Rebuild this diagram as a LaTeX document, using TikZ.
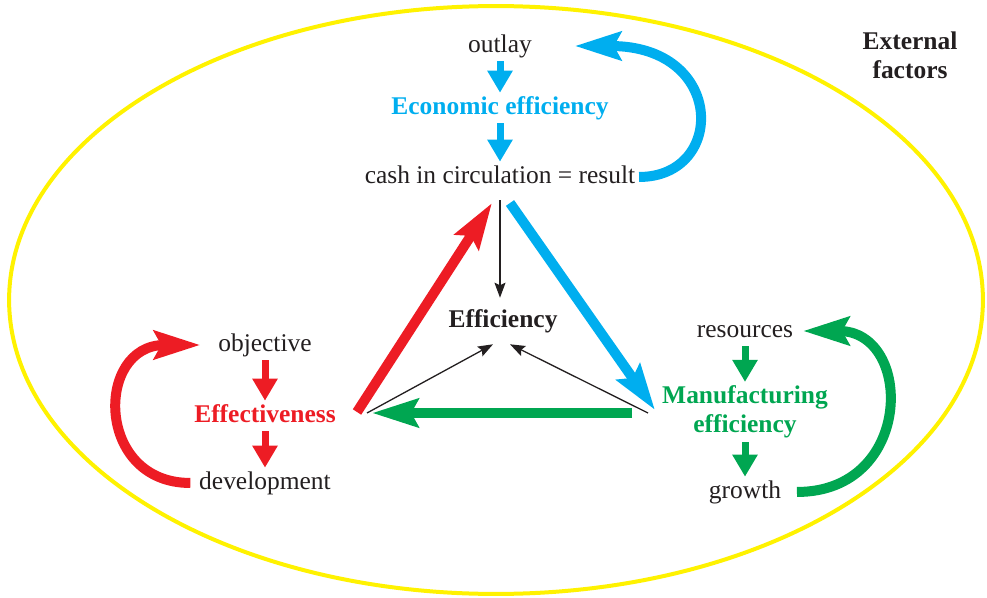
\documentclass[tikz,border=0pt]{standalone}
\usepackage{fontspec}
\setmainfont{Liberation Serif}
\usepackage{xcolor}
\usetikzlibrary{positioning, arrows.meta}

\definecolor{ecoblue}{HTML}{00AEEF}
\definecolor{effred}{HTML}{ED1C24}
\definecolor{mfggreen}{HTML}{00A651}
\definecolor{framey}{HTML}{FFF200}
\definecolor{ink}{HTML}{231F20}
\newcommand{\figsize}{\fontsize{14.5}{16.5}\selectfont}

\begin{document}
\begin{tikzpicture}[
      x=0.02cm, y=-0.02cm, on grid,
      txt/.style={
          font=\figsize, text=ink, inner sep=2pt,
          text height=10pt, text depth=3pt
        },
      ttl/.style={
          txt, font=\figsize\bfseries
        },
      ttlbox/.style={
          font=\figsize\bfseries, align=center, inner sep=2pt
        },
      flow/.style={line width=0.14cm,
          -{Triangle[length=0.44cm, width=0.48cm]}},
      bigarrow/.style={line width=0.2cm,
          -{Stealth[length=0.92cm, width=0.56cm, inset=0.14cm]}},
      thinarrow/.style={ink, line width=0.026cm,
          -{Stealth[length=0.3cm, width=0.22cm, inset=0.05cm]}}
    ]

    \useasboundingbox (0,0) rectangle (987,598);

    % ── External frame ──
    \draw[framey, line width=0.08cm] (496,300)
    ellipse [x radius=9.74cm, y radius=5.88cm];
    \node[ttlbox, text=ink] (extern) at (910,55) {External\\factors};

    % ── Economic efficiency (top) ──
    \node[txt] (outlay) at (500,46) {outlay};
    \node[ttl, text=ecoblue, below=1.24cm of outlay] (econ) {Economic efficiency};
    \node[txt, below=1.38cm of econ] (result) {cash in circulation = result};

    \draw[flow, ecoblue] (outlay) -- (econ);
    \draw[flow, ecoblue] (econ) -- (result);
    \draw[bigarrow, ecoblue]
    (result.east) .. controls (726,177) and (726,46) .. ([xshift=0.78cm]outlay.east);

    % ── Effectiveness (left) ──
    \node[txt] (objective) at (265,345) {objective};
    \node[ttl, text=effred, below=1.42cm of objective] (effect) {Effectiveness};
    \node[txt, below=1.34cm of effect] (develop) {development};

    \draw[flow, effred] (objective) -- (effect);
    \draw[flow, effred] (effect) -- (develop);
    \draw[bigarrow, effred]
    ([xshift=-0.1cm]develop.west) .. controls (95,483) and (95,345) .. ([xshift=-0.28cm]objective.west);

    % ── Manufacturing efficiency (right) ──
    \node[txt] (resources) at (745,331) {resources};
    \node[ttlbox, text=mfggreen, below=1.62cm of resources] (manuf) {Manufacturing\\efficiency};
    \node[txt, below=1.6cm of manuf] (growth) {growth};

    \draw[flow, mfggreen] (resources) -- (manuf);
    \draw[flow, mfggreen] (manuf) -- (growth);
    \draw[bigarrow, mfggreen]
    ([xshift=0.24cm]growth.east) .. controls (914,492) and (914,331) .. ([xshift=0.12cm]resources.east);

    % ── Central triangle ──
    \node[ttl] (effic) at (503,321) {Efficiency};
    \coordinate (apex) at (500,200);
    \coordinate (lcorner) at (362,413);
    \coordinate (rcorner) at (650,413);

    \draw[bigarrow, effred] ([shift={(-5,-1)}]lcorner) -- ([shift={(-8,3)}]apex);
    \draw[bigarrow, ecoblue] ([shift={(10,3)}]apex) -- ([shift={(5,-3)}]rcorner);
    \draw[bigarrow, mfggreen] ([xshift=-0.36cm]rcorner) -- ([xshift=0.2cm]lcorner);

    \draw[thinarrow, shorten >=0.16cm] (apex) -- (apex |- effic.north);
    \draw[thinarrow] ([xshift=0.1cm]lcorner) -- ([shift={(-10,8)}]effic.south);
    \draw[thinarrow] ([xshift=-0.04cm]rcorner) -- ([shift={(7,8)}]effic.south);

  \end{tikzpicture}
\end{document}
